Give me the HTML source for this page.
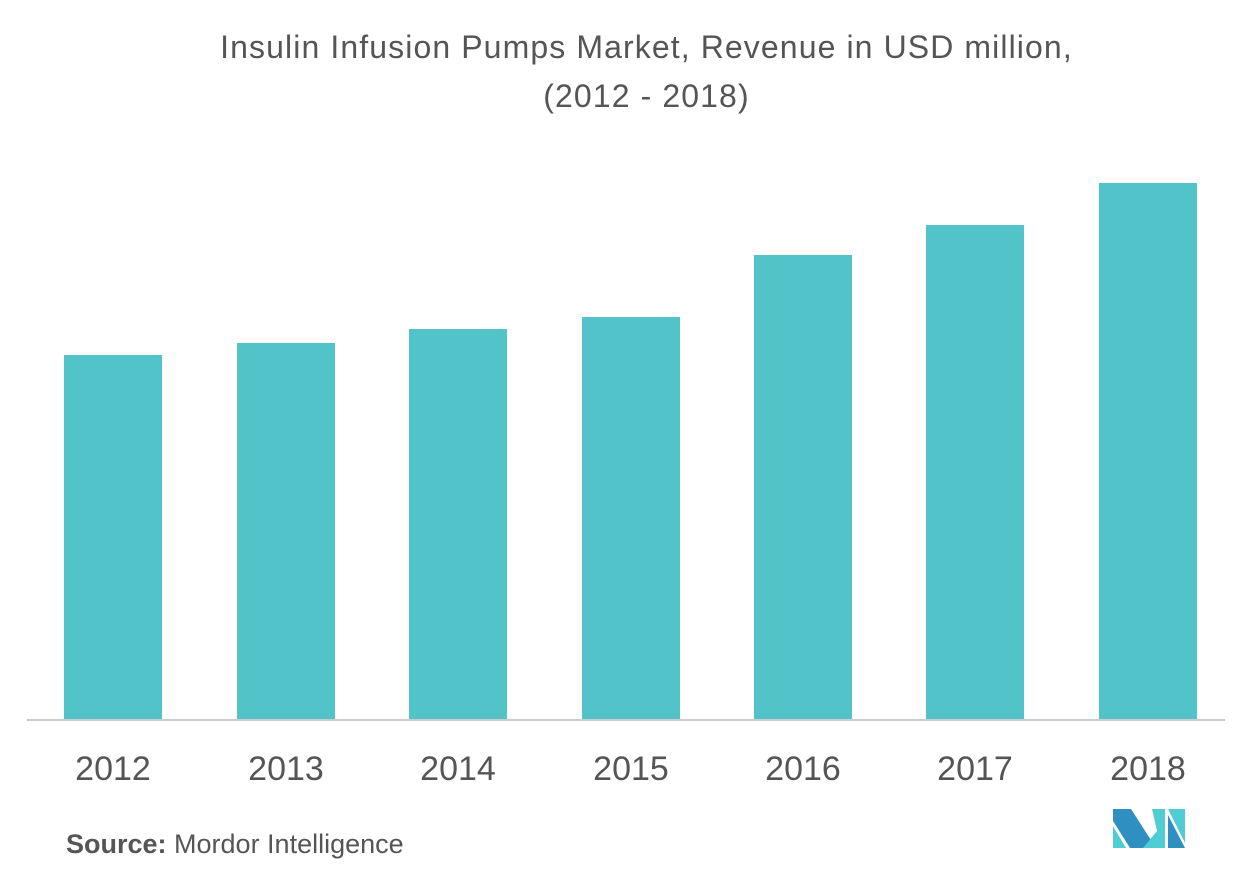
<!DOCTYPE html>
<html><head><meta charset="utf-8"><style>
body{margin:0;width:1253px;height:880px;background:#fff;font-family:"Liberation Sans",sans-serif;position:relative;overflow:hidden}
.t{position:absolute;left:20px;width:1253px;text-align:center;color:#555;font-size:32px;letter-spacing:1.1px}
.b{position:absolute;background:#52c4c9;width:98px;bottom:160px}
.l{position:absolute;top:750px;width:140px;text-align:center;font-size:34px;color:#555}
</style></head><body>
<div class="t" style="top:29px">Insulin Infusion Pumps Market, Revenue in USD million,</div>
<div class="t" style="top:78px">(2012 - 2018)</div>
<div class="b" style="left:64px;top:355px"></div>
<div class="b" style="left:237px;top:343px"></div>
<div class="b" style="left:409px;top:329px"></div>
<div class="b" style="left:582px;top:317px"></div>
<div class="b" style="left:754px;top:255px"></div>
<div class="b" style="left:926px;top:225px"></div>
<div class="b" style="left:1099px;top:183px"></div>
<div style="position:absolute;left:27px;top:719px;width:1198px;height:2px;background:#ccc"></div>
<div class="l" style="left:43px">2012</div>
<div class="l" style="left:216px">2013</div>
<div class="l" style="left:388px">2014</div>
<div class="l" style="left:561px">2015</div>
<div class="l" style="left:733px">2016</div>
<div class="l" style="left:905px">2017</div>
<div class="l" style="left:1078px">2018</div>
<div style="position:absolute;left:66px;top:829px;font-size:27px;color:#555"><b>Source:</b> Mordor Intelligence</div>
<svg style="position:absolute;left:1113px;top:809px" width="73" height="40">
<polygon points="0,0 18,0 43,39 17,39 0,12" fill="#2e8fc0"/>
<polygon points="0,17 0,39 13,39" fill="#4fcdd2"/>
<polygon points="39,0 52,0 52,39 30,39 44,22" fill="#4fcdd2"/>
<polygon points="55,0 72,0 72,34" fill="#4fcdd2"/>
<polygon points="55,6 72,39 55,39" fill="#2e8fc0"/>
</svg>
</body></html>
